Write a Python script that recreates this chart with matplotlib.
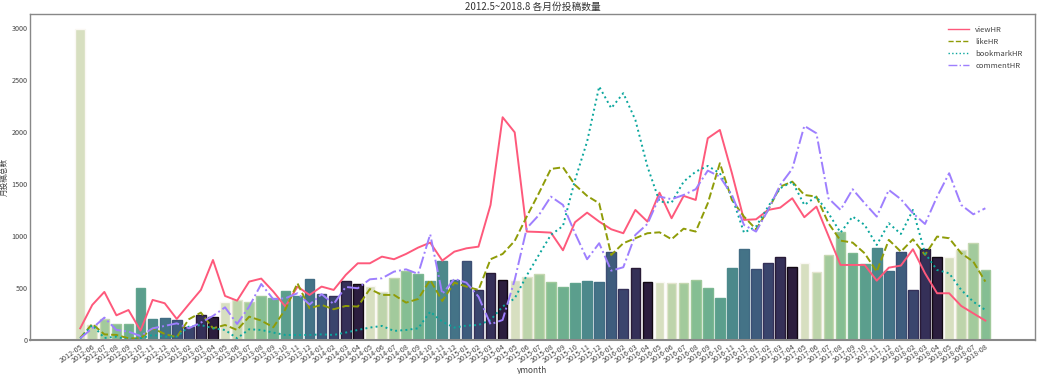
import numpy as np
import matplotlib
matplotlib.use("Agg")
import matplotlib.pyplot as plt
import seaborn as sns

# months 2012-05 .. 2018-08
months = []
for y in range(2012, 2019):
    for m in range(1, 13):
        if (y == 2012 and m < 5) or (y == 2018 and m > 8):
            continue
        months.append(f"{y}-{m:02d}")

posts = [2990, 144, 199, 151, 154, 497, 199, 215, 192, 128, 240, 224,
         368, 385, 368, 423, 401, 471, 423, 590, 439, 425, 567, 536,
         522, 462, 594, 666, 635, 567, 763, 577, 763, 481, 647, 577,
         574, 606, 635, 555, 506, 548, 567, 561, 846, 490, 692, 561,
         561, 545, 545, 577, 497, 407, 689, 872, 683, 740, 801, 699,
         740, 654, 820, 1035, 836, 728, 888, 663, 846, 481, 878, 801,
         795, 865, 936, 673]

viewHR = [112, 337, 462, 237, 288, 90, 385, 353, 202, 343, 481, 769,
          423, 378, 561, 590, 465, 321, 513, 433, 513, 481, 625, 737,
          737, 801, 776, 827, 888, 936, 763, 849, 881, 897, 1298, 2141,
          1996, 1042, 1038, 1032, 862, 1132, 1224, 1138, 1064, 1026, 1250, 1138,
          1416, 1170, 1385, 1346, 1939, 2019, 1603, 1154, 1160, 1250, 1272, 1362,
          1180, 1282, 1000, 721, 721, 721, 570, 695, 715, 872, 641, 449,
          449, 327, 256, 186]

likeHR = [19, 154, 54, 48, 16, 16, 112, 58, 26, 199, 263, 112,
          144, 96, 224, 186, 122, 295, 545, 305, 337, 295, 327, 321,
          490, 433, 433, 359, 394, 577, 375, 551, 513, 481, 776, 827,
          952, 1186, 1410, 1644, 1660, 1490, 1385, 1314, 817, 930, 978, 1026,
          1035, 968, 1070, 1042, 1314, 1699, 1346, 1186, 1064, 1250, 1474, 1522,
          1394, 1378, 1122, 955, 936, 833, 657, 962, 849, 968, 817, 994,
          978, 833, 753, 561]

bookmarkHR = [15, 144, 19, 32, 0, 16, 48, 32, 32, 128, 144, 112,
              96, 16, 103, 96, 71, 48, 48, 48, 54, 48, 71, 96,
              119, 135, 87, 96, 112, 272, 176, 119, 138, 144, 192, 321,
              400, 620, 817, 1010, 1096, 1538, 1907, 2436, 2228, 2372, 2115, 1667,
              1330, 1320, 1522, 1618, 1673, 1603, 1378, 1032, 1090, 1282, 1458, 1522,
              1298, 1378, 1218, 1032, 1186, 1106, 913, 1122, 1019, 1250, 833, 673,
              641, 481, 368, 288]

commentHR = [16, 112, 215, 96, 80, 38, 112, 135, 160, 112, 167, 231,
             314, 154, 321, 538, 391, 401, 449, 340, 440, 346, 510, 497,
             583, 593, 657, 679, 635, 1016, 442, 587, 551, 417, 151, 192,
             577, 1074, 1200, 1378, 1298, 1026, 776, 930, 666, 699, 1010, 1115,
             1378, 1353, 1394, 1449, 1628, 1570, 1394, 1106, 1042, 1250, 1490, 1645,
             2058, 1987, 1362, 1250, 1449, 1314, 1186, 1442, 1353, 1218, 1115, 1378,
             1603, 1298, 1208, 1266]

plt.rcParams['font.family'] = ['Noto Sans CJK SC', 'DejaVu Sans']

fig = plt.figure(figsize=(10.39, 3.74), dpi=100)
ax = fig.add_axes([0.029, 0.091, 0.967, 0.872])

x = np.arange(len(months))
fill = sns.cubehelix_palette(12, start=.5, rot=-.75)
edge = sns.cubehelix_palette(12, start=.5, rot=-.75, light=.97, dark=.05)
ax.bar(x, posts, width=0.8,
       color=[fill[i % 12] for i in x],
       edgecolor=[edge[i % 12] for i in x], linewidth=1.0)

husl = sns.husl_palette(4, s=1.0, l=0.62)
ax.plot(x, viewHR, color=husl[0], lw=1.4, ls='-', label='viewHR')
ax.plot(x, likeHR, color=husl[1], lw=1.4, ls='--', label='likeHR')
ax.plot(x, bookmarkHR, color=husl[2], lw=1.4, ls=':', label='bookmarkHR')
ax.plot(x, commentHR, color=husl[3], lw=1.4, ls='-.', label='commentHR')

ax.set_xlim(-4.15, 79.1)
ax.set_ylim(0, 3135)
ax.set_yticks(np.arange(0, 3001, 500))
ax.set_xticks(x)
ax.set_xticklabels(months, rotation=35, ha='right', rotation_mode='anchor')
ax.tick_params(axis='both', length=0, labelsize=5.2, colors='#444444', pad=2)
for s in ax.spines.values():
    s.set_color('#888888')
    s.set_linewidth(1.0)
ax.spines['bottom'].set_linewidth(1.5)

ax.set_title('2012.5~2018.8 各月份投稿数量', fontsize=7, color='#333333', pad=3)
ax.set_xlabel('ymonth', fontsize=6, color='#444444', labelpad=1)
ax.set_ylabel('月投稿总数', fontsize=5.5, color='#444444', labelpad=2)

leg = ax.legend(loc='upper right', frameon=False, fontsize=5.5, handlelength=2.8,
                borderaxespad=1.2)
for line in leg.get_lines():
    line.set_linewidth(1.0)
for t in leg.get_texts():
    t.set_color('#444444')

fig.savefig('out.png', dpi=100)
